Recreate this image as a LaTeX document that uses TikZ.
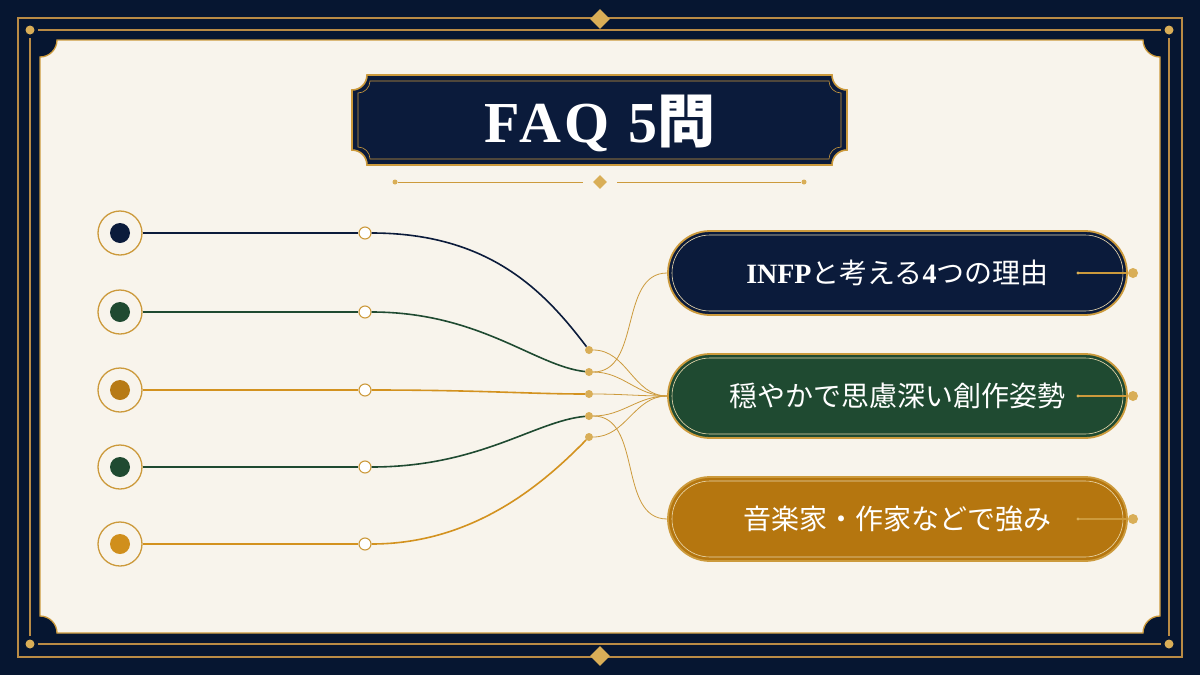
\documentclass[tikz,border=0pt]{standalone}
\usepackage{fontspec}
\setmainfont{Liberation Serif}
\newfontfamily\jpfont{Noto Sans CJK JP}
\newcommand{\jp}[1]{{\jpfont #1}}
\usepackage{xcolor}
\definecolor{ink}{HTML}{061631}
\definecolor{navy}{HTML}{0B1B3B}
\definecolor{pine}{HTML}{1F4A31}
\definecolor{amber}{HTML}{B5760F}
\definecolor{amberdot}{HTML}{B77A16}
\definecolor{amberlite}{HTML}{D08F1C}
\definecolor{amberline}{HTML}{D3921F}
\definecolor{gold}{HTML}{CC9A3C}
\definecolor{golddot}{HTML}{D9AE57}
\definecolor{framegold}{HTML}{B98B45}
\definecolor{cream}{HTML}{F8F4EC}
\definecolor{sheen}{HTML}{EAD9AE}
\usetikzlibrary{shapes.geometric}
% concave-cornered box: x1 y1 x2 y2 r
\newcommand{\notchbox}[5]{({#1+#5},#2) -- ({#3-#5},#2)
  arc[start angle=180,end angle=90,radius=#5] -- (#3,{#4-#5})
  arc[start angle=270,end angle=180,radius=#5] -- ({#1+#5},#4)
  arc[start angle=0,end angle=-90,radius=#5] -- (#1,{#2+#5})
  arc[start angle=90,end angle=0,radius=#5] -- cycle}
\tikzset{
  ring/.style    ={circle,draw=gold,fill=cream,line width=1.3pt,
                   minimum size=44pt,inner sep=0pt},
  core/.style    ={circle,minimum size=20pt,inner sep=0pt},
  knot/.style    ={circle,draw=gold,fill=white,line width=1.1pt,
                   minimum size=12pt,inner sep=0pt},
  jdot/.style    ={circle,fill=golddot,minimum size=8pt,inner sep=0pt},
  enddot/.style  ={circle,fill=golddot,minimum size=10pt,inner sep=0pt},
  gem/.style     ={diamond,fill=golddot,minimum size=20pt,inner sep=0pt},
  pill/.style    ={draw=gold,line width=1.8pt,rounded corners=42pt,
                   minimum width=459pt,minimum height=84pt,text=white,
                   font=\fontsize{28}{30}\selectfont},
  pillring/.style={draw=sheen,line width=0.6pt,rounded corners=38pt,
                   minimum width=451pt,minimum height=76pt},
  row/.style     ={line width=1.6pt},
  fan/.style     ={draw=gold,line width=0.8pt},
  rule/.style    ={draw=framegold,line width=1.2pt},
}
\begin{document}
\begin{tikzpicture}[x=1pt,y=-1pt]
\useasboundingbox (0,0) rectangle (1200,675);
% frame
\fill[ink] (0,0) rectangle (1200,675);
\draw[rule] (18,18) rectangle (1182,657);
\draw[rule] (38,30) -- (1161,30);
\draw[rule] (38,644) -- (1161,644);
\draw[rule] (30,38) -- (30,636);
\draw[rule] (1169,38) -- (1169,636);
\foreach \x/\y in {30/30,1169/30,30/644,1169/644}
  \fill[golddot] (\x,\y) circle (4.5);
\node[gem] (gtop) at (600,19) {};
\node[gem] (gbot) at (600,656) {};
% panel
\path[fill=cream,draw=gold,line width=1.3pt] \notchbox{40}{40}{1160}{633}{17};
% banner
\path[fill=navy,draw=gold,line width=1.6pt] \notchbox{352}{75}{847}{165}{15};
\draw[gold,line width=0.6pt] \notchbox{358}{81}{841}{159}{12};
\node[text=white,font=\fontsize{58}{60}\selectfont\bfseries\addfontfeature{LetterSpace=6},
  anchor=base] (title) at (600,142) {FAQ 5\jp{問}};
% divider
\node[jdot,minimum size=5pt] (dl) at (395,182) {};
\node[jdot,minimum size=5pt] (dr) at (804,182) {};
\node[gem,minimum size=14pt] (dm) at (600,182) {};
\coordinate (dla) at (583,182);
\coordinate (dra) at (617,182);
\draw[gold,line width=0.9pt] (dl) -- (dla);
\draw[gold,line width=0.9pt] (dra) -- (dr);
% left rows
\foreach \i/\y/\c/\l in {1/233/navy/navy,2/312/pine/pine,3/390/amberdot/amberline,
                        4/467/pine/pine,5/544/amberlite/amberline}{
  \node[ring] (r\i) at (120,\y) {};
  \node[core,fill=\c] (c\i) at (120,\y) {};
  \node[knot] (k\i) at (365,\y) {};
  \draw[row,\l] (r\i) -- (k\i);
}
\foreach \i/\y in {1/350,2/372,3/394,4/416,5/437}
  \node[jdot] (j\i) at (589,\y) {};
\draw[row,navy] (k1) .. controls (490,233) and (545,292) .. (j1);
\draw[row,pine] (k2) .. controls (480,312) and (535,366) .. (j2);
\draw[row,amberline] (k3) .. controls (480,390) and (530,394) .. (j3);
\draw[row,pine] (k4) .. controls (480,467) and (535,421) .. (j4);
\draw[row,amberline] (k5) .. controls (475,544) and (545,482) .. (j5);
% pills
\node[pill,fill=navy] (p1) at (897.5,273)
  {\bfseries INFP\mdseries\jp{と考える}\bfseries 4\mdseries\jp{つの理由}};
\node[pill,fill=pine] (p2) at (897.5,396) {\jp{穏やかで思慮深い創作姿勢}};
\node[pill,fill=amber] (p3) at (897.5,519) {\jp{音楽家・作家などで強み}};
\foreach \i in {1,2,3}
  \node[pillring] (p\i i) at (p\i) {};
% fan into pills
\foreach \i in {1,...,5}
  \draw[fan] (j\i) to[out=0,in=180] (p2.west);
\draw[fan] (j2) to[out=0,in=180] (p1.west);
\draw[fan] (j4) to[out=0,in=180] (p3.west);
% right stubs
\foreach \i/\y in {1/273,2/396,3/519}{
  \coordinate (s\i) at (1078,\y);
  \node[enddot] (e\i) at (1133,\y) {};
  \draw[gold,line width=1.2pt] (s\i) -- (e\i);
  \fill[golddot] (s\i) circle (1.6);
}
\end{tikzpicture}
\end{document}
